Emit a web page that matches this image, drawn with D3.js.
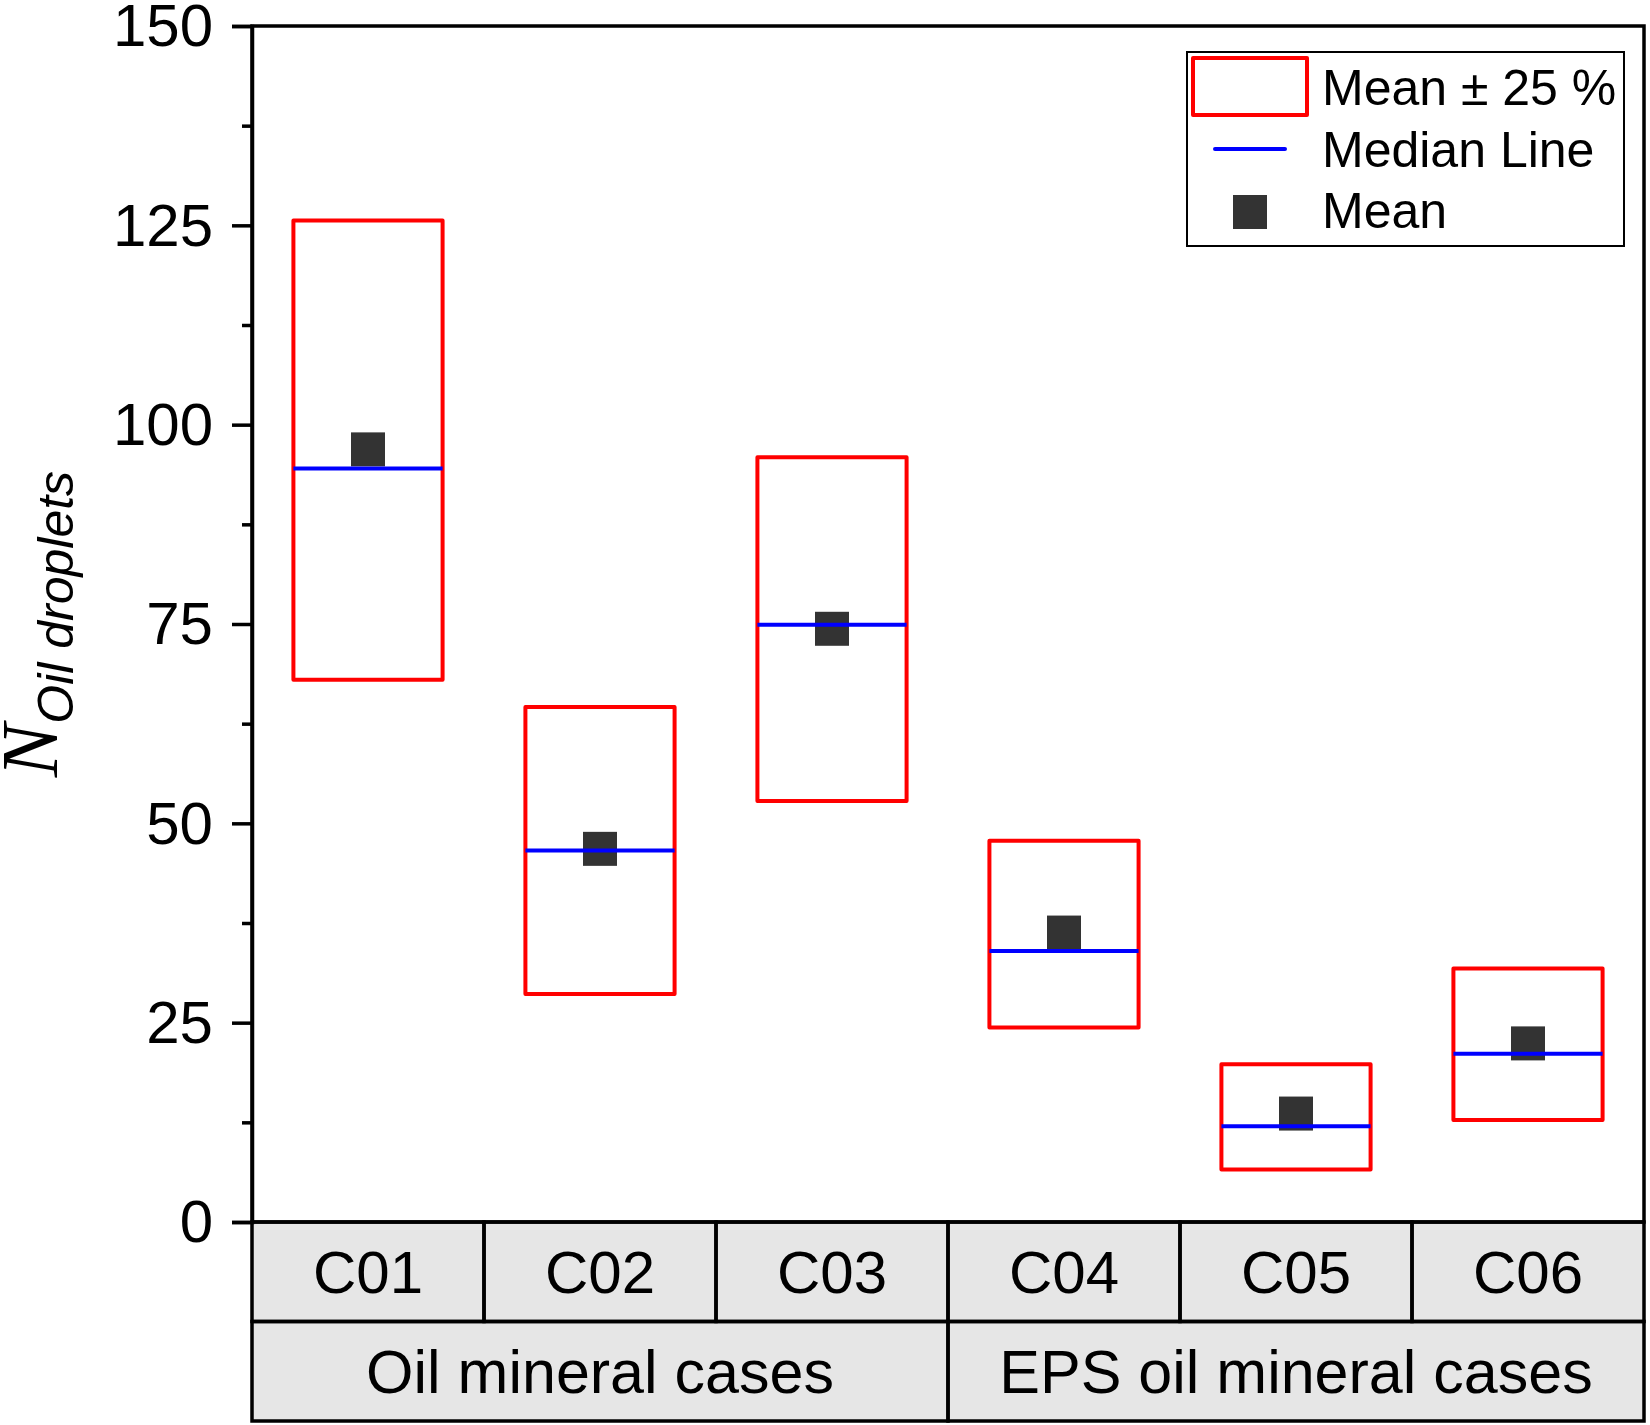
<!DOCTYPE html>
<html>
<head>
<meta charset="utf-8">
<script src="https://cdn.jsdelivr.net/npm/d3@7"></script>
<style>
  body { margin: 0; background: #fff; }
  text { font-family: "Liberation Sans", Arial, sans-serif; }
</style>
</head>
<body>
<div id="chart"></div>
<script>
// values
var cases = ["C01", "C02", "C03", "C04", "C05", "C06"];
var groups = ["Oil mineral cases", "EPS oil mineral cases"];
var groupSpan = [3, 3];
var boxTop = [125.6, 64.6, 95.9, 47.8, 19.8, 31.8];
var boxBottom = [68.0, 28.6, 52.8, 24.4, 6.6, 12.8];
var medians = [94.5, 46.6, 74.9, 34.0, 12.0, 21.1];
var means = [96.9, 46.8, 74.4, 36.3, 13.6, 22.4];
var majorTicks = [0, 25, 50, 75, 100, 125, 150];
var minorTicks = [12.5, 37.5, 62.5, 87.5, 112.5, 137.5];
var legendLabels = ["Mean \u00b1 25 %", "Median Line", "Mean"];

var width = 1650, height = 1425;
var xLeft = 252, xRight = 1644, yTop = 26, yZero = 1222;
var rowH = 99.5;

var svg = d3.select("#chart").append("svg").attr("width", width).attr("height", height);

var x = d3.scaleBand().domain(cases).range([xLeft, xRight]).padding(0);
var y = d3.scaleLinear().domain([0, 150]).range([yZero, yTop]);
var boxW = x.bandwidth() * 0.643;

var data = cases.map(function(c, i) {
  return {c: c, top: boxTop[i], bottom: boxBottom[i], median: medians[i], mean: means[i]};
});

// table under the plot
var table = svg.append("g");
table.append("rect").attr("x", xLeft).attr("y", yZero).attr("width", xRight - xLeft).attr("height", rowH * 2)
  .attr("fill", "#e6e6e6");
table.selectAll(".cell").data(cases).enter().append("rect")
  .attr("x", function(d){ return x(d); }).attr("y", yZero)
  .attr("width", x.bandwidth()).attr("height", rowH)
  .attr("fill", "none").attr("stroke", "#000").attr("stroke-width", 3.5);
table.selectAll(".celltext").data(cases).enter().append("text")
  .attr("x", function(d){ return x(d) + x.bandwidth() / 2; })
  .attr("y", yZero + 71).attr("text-anchor", "middle").attr("font-size", 60).text(function(d){ return d; });

var start = 0;
groups.forEach(function(g, i) {
  var x0 = x(cases[start]);
  var x1 = x(cases[start + groupSpan[i] - 1]) + x.bandwidth();
  table.append("rect").attr("x", x0).attr("y", yZero + rowH).attr("width", x1 - x0).attr("height", rowH)
    .attr("fill", "none").attr("stroke", "#000").attr("stroke-width", 3.5);
  table.append("text").attr("x", (x0 + x1) / 2).attr("y", yZero + rowH + 71)
    .attr("text-anchor", "middle").attr("font-size", 61).text(g);
  start += groupSpan[i];
});

// frame
svg.append("rect").attr("x", xLeft).attr("y", yTop).attr("width", xRight - xLeft).attr("height", yZero - yTop)
  .attr("fill", "none").attr("stroke", "#000").attr("stroke-width", 3.5);

// y axis
var yaxis = d3.axisLeft(y).tickValues(majorTicks).tickSize(20).tickPadding(19);
var ga = svg.append("g").attr("transform", "translate(" + xLeft + ",0)").call(yaxis);
ga.select(".domain").attr("stroke-width", 3.5);
ga.selectAll(".tick line").attr("stroke-width", 3.5);
ga.selectAll(".tick text").attr("font-size", 60).attr("font-family", "Liberation Sans, Arial, sans-serif")
  .attr("dy", "0.33em").attr("fill", "#000");

var yminor = d3.axisLeft(y).tickValues(minorTicks).tickSize(10).tickFormat("");
var gm = svg.append("g").attr("transform", "translate(" + xLeft + ",0)").call(yminor);
gm.select(".domain").remove();
gm.selectAll(".tick line").attr("stroke-width", 3.5);

// y label
var ylab = svg.append("text").attr("transform", "translate(57," + ((yTop + yZero) / 2) + ") rotate(-90)")
  .attr("text-anchor", "middle");
ylab.append("tspan").attr("font-family", "Liberation Serif, Times New Roman, serif")
  .attr("font-style", "italic").attr("font-size", 80).text("N");
ylab.append("tspan").attr("font-style", "italic").attr("font-size", 50).attr("dy", 16).text("Oil droplets");

// boxes
var plot = svg.append("g");
plot.selectAll(".box").data(data).enter().append("rect")
  .attr("x", function(d){ return x(d.c) + (x.bandwidth() - boxW) / 2; })
  .attr("y", function(d){ return y(d.top); })
  .attr("width", boxW)
  .attr("height", function(d){ return y(d.bottom) - y(d.top); })
  .attr("fill", "none").attr("stroke", "#ff0000").attr("stroke-width", 4).attr("stroke-linejoin", "round");

plot.selectAll(".mean").data(data).enter().append("rect")
  .attr("x", function(d){ return x(d.c) + x.bandwidth() / 2 - 17; })
  .attr("y", function(d){ return y(d.mean) - 17; })
  .attr("width", 34).attr("height", 34).attr("fill", "#333333");

plot.selectAll(".median").data(data).enter().append("line")
  .attr("x1", function(d){ return x(d.c) + (x.bandwidth() - boxW) / 2; })
  .attr("x2", function(d){ return x(d.c) + (x.bandwidth() + boxW) / 2; })
  .attr("y1", function(d){ return y(d.median); })
  .attr("y2", function(d){ return y(d.median); })
  .attr("stroke", "#0000ff").attr("stroke-width", 4);

// legend
var lg = svg.append("g");
lg.append("rect").attr("x", 1187).attr("y", 52).attr("width", 437).attr("height", 194)
  .attr("fill", "#fff").attr("stroke", "#000").attr("stroke-width", 2);
lg.append("rect").attr("x", 1193).attr("y", 58).attr("width", 114).attr("height", 57)
  .attr("fill", "none").attr("stroke", "#ff0000").attr("stroke-width", 4).attr("stroke-linejoin", "round");
lg.append("line").attr("x1", 1215).attr("x2", 1285).attr("y1", 149).attr("y2", 149)
  .attr("stroke", "#0000ff").attr("stroke-width", 4).attr("stroke-linecap", "round");
lg.append("rect").attr("x", 1233).attr("y", 195).attr("width", 34).attr("height", 34).attr("fill", "#333333");
lg.selectAll(".lt").data(legendLabels).enter().append("text")
  .attr("x", 1322).attr("y", function(d, i){ return 105 + i * 61.5; })
  .attr("font-size", 50).text(function(d){ return d; });
</script>
</body>
</html>
